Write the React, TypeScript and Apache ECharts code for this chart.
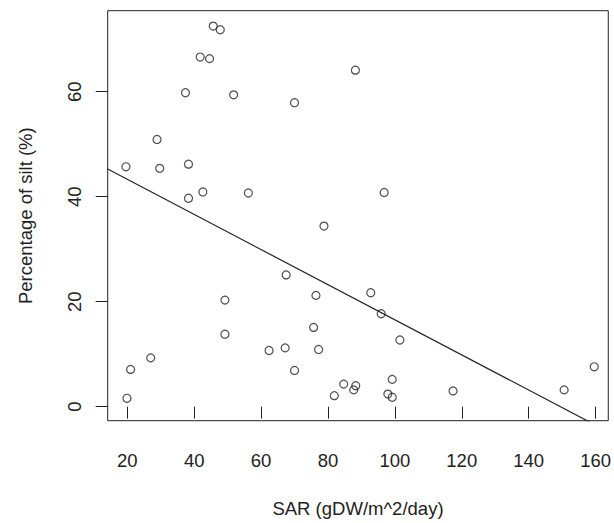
import React, { useEffect, useRef } from "react";
import * as echarts from "echarts";

// SAR (gDW/m^2/day)
const sarValues: number[] = [
  45.7, 47.8, 41.8, 44.6, 37.4, 51.8, 70.0, 28.9, 19.6, 29.7, 38.3, 42.6, 38.3, 56.2, 78.8,
  88.2, 96.8,
  67.5, 49.2, 76.4, 49.2, 75.7, 62.4, 67.2, 77.2, 70.0, 27.0, 21.0, 19.9, 81.9,
  92.8, 95.9, 101.5, 159.6, 99.2, 84.7, 88.3, 87.7, 117.4, 150.6, 97.9, 99.2,
];
// Percentage of silt (%)
const siltValues: number[] = [
  72.5, 71.8, 66.6, 66.3, 59.8, 59.4, 57.9, 50.9, 45.7, 45.4, 46.2, 40.9, 39.7, 40.7, 34.4,
  64.1, 40.8,
  25.1, 20.3, 21.2, 13.8, 15.1, 10.7, 11.2, 10.9, 6.9, 9.3, 7.1, 1.6, 2.1,
  21.7, 17.7, 12.7, 7.6, 5.2, 4.3, 4.0, 3.2, 3.0, 3.2, 2.4, 1.8,
];
const xTicks: number[] = [20, 40, 60, 80, 100, 120, 140, 160];
const yTicks: number[] = [0, 20, 40, 60];
// fitted line: silt = intercept + slope * SAR
const fitIntercept = 50.0;
const fitSlope = -0.3345;

const X_MIN = 14.15;
const X_MAX = 163.8;
const Y_MIN = -2.67;
const Y_MAX = 75.43;

const FONT = "'Liberation Sans', Arial, sans-serif";
const INK = "#222222";

export default function App() {
  const ref = useRef<HTMLDivElement>(null);
  useEffect(() => {
    document.body.style.margin = "0";
    if (!ref.current) return;
    const chart = echarts.init(ref.current, undefined, { renderer: "svg" });
    const points = sarValues.map((x, i) => [x, siltValues[i]]);
    const fitLine = [X_MIN, X_MAX].map((x) => [x, fitIntercept + fitSlope * x]);
    chart.setOption({
      animation: false,
      backgroundColor: "#ffffff",
      textStyle: { fontFamily: FONT },
      grid: {
        left: 107.7,
        right: 4.7,
        top: 10.7,
        bottom: 102.3,
        show: true,
        borderColor: INK,
        borderWidth: 1,
        backgroundColor: "transparent",
      },
      xAxis: {
        type: "value",
        min: X_MIN,
        max: X_MAX,
        name: "SAR (gDW/m^2/day)",
        nameLocation: "middle",
        nameGap: 78,
        nameTextStyle: { fontSize: 18.5, color: INK, fontFamily: FONT },
        axisLine: { show: false },
        splitLine: { show: false },
        axisTick: {
          show: true,
          length: 12,
          customValues: xTicks,
          lineStyle: { color: INK, width: 1 },
        },
        axisLabel: {
          customValues: xTicks,
          margin: 30,
          fontSize: 18.5,
          color: INK,
          fontFamily: FONT,
        },
      },
      yAxis: {
        type: "value",
        min: Y_MIN,
        max: Y_MAX,
        name: "Percentage of silt (%)",
        nameLocation: "middle",
        nameGap: 73,
        nameRotate: 90,
        nameTextStyle: { fontSize: 18.5, color: INK, fontFamily: FONT },
        axisLine: { show: false },
        splitLine: { show: false },
        axisTick: {
          show: true,
          length: 12,
          customValues: yTicks,
          lineStyle: { color: INK, width: 1 },
        },
        axisLabel: {
          customValues: yTicks,
          rotate: 90,
          margin: 24,
          fontSize: 18.5,
          color: INK,
          fontFamily: FONT,
        },
      },
      series: [
        {
          type: "scatter",
          data: points,
          symbol: "circle",
          symbolSize: 8,
          itemStyle: { color: "transparent", borderColor: INK, borderWidth: 1.2 },
          emphasis: { disabled: true },
        },
        {
          type: "line",
          data: fitLine,
          showSymbol: false,
          symbol: "none",
          clip: true,
          lineStyle: { color: INK, width: 1.2 },
          emphasis: { disabled: true },
        },
      ],
    });
    return () => chart.dispose();
  }, []);
  return (
    <div
      ref={ref}
      style={{ position: "fixed", left: 0, top: 0, width: 614, height: 523 }}
    />
  );
}
